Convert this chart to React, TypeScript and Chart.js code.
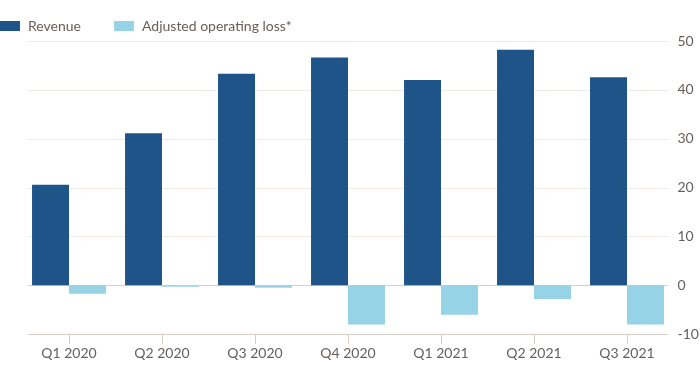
import React, { useEffect, useRef } from "react";
import { Chart, registerables } from "chart.js";

Chart.register(...registerables);

const categories = ["Q1 2020", "Q2 2020", "Q3 2020", "Q4 2020", "Q1 2021", "Q2 2021", "Q3 2021"];
const revenue = [20.6, 31.1, 43.3, 46.6, 42.0, 48.2, 42.6];
const adjustedLoss = [-1.7, -0.3, -0.5, -8.0, -6.0, -2.8, -8.0];
const seriesNames = ["Revenue", "Adjusted operating loss*"];
const seriesColors = ["#1f5489", "#96d3e6"];
const yTicks = [-10, 0, 10, 20, 30, 40, 50];

const FONT = "Lato, 'Open Sans', sans-serif";
const TEXT = "#66605c";

const gridPlugin = {
  id: "customGrid",
  beforeDatasetsDraw(chart: any) {
    const { ctx, chartArea, scales } = chart;
    const y = scales.y;
    ctx.save();
    yTicks.forEach((v) => {
      const py = Math.round(y.getPixelForValue(v)) + 0.5;
      ctx.strokeStyle = v === 0 || v === -10 ? "#d8cfc8" : "#efeae6";
      ctx.lineWidth = 1;
      ctx.beginPath();
      ctx.moveTo(chartArea.left + 5.5, py);
      ctx.lineTo(chartArea.right - 5.5, py);
      ctx.stroke();
    });
    ctx.restore();
  },
};

export default function App() {
  const ref = useRef<HTMLCanvasElement>(null);
  useEffect(() => {
    document.body.style.margin = "0";
    const chart = new Chart(ref.current!, {
      type: "bar",
      data: {
        labels: categories,
        datasets: [
          { label: seriesNames[0], data: revenue, backgroundColor: seriesColors[0], borderWidth: 0 },
          { label: seriesNames[1], data: adjustedLoss, backgroundColor: seriesColors[1], borderWidth: 0 },
        ],
      },
      options: {
        animation: false,
        responsive: false,
        maintainAspectRatio: false,
        layout: { padding: { left: 22.5, top: 41, bottom: 12, right: 0 } },
        plugins: { legend: { display: false }, tooltip: { enabled: false } },
        datasets: { bar: { barPercentage: 1, categoryPercentage: 0.795 } },
        scales: {
          x: {
            grid: { offset: false, drawOnChartArea: false, drawTicks: true, tickLength: 10, color: "#d8cfc8" },
            border: { display: false },
            ticks: { color: TEXT, font: { family: FONT, size: 14 }, padding: 1, maxRotation: 0 },
          },
          y: {
            position: "right",
            min: -10,
            max: 50,
            afterBuildTicks: (scale: any) => {
              scale.ticks = yTicks.map((v) => ({ value: v }));
            },
            afterFit: (scale: any) => {
              scale.width = 26.5;
            },
            grid: { display: false, drawTicks: false, tickLength: 0 },
            border: { display: false },
            ticks: { color: TEXT, font: { family: FONT, size: 14 }, padding: 4 },
          },
        },
      },
      plugins: [gridPlugin],
    });
    return () => chart.destroy();
  }, []);

  return (
    <div style={{ position: "relative", width: 700, height: 375, fontFamily: FONT }}>
      <canvas ref={ref} width={700} height={375} style={{ display: "block" }} />
      <div style={{ position: "absolute", left: 0, top: 17, display: "flex", alignItems: "center", fontSize: 14, color: TEXT }}>
        {seriesNames.map((n, i) => (
          <div key={n} style={{ display: "flex", alignItems: "center", marginRight: 33 }}>
            <span style={{ display: "inline-block", width: 20, height: 10, background: seriesColors[i], marginRight: 8 }} />
            <span>{n}</span>
          </div>
        ))}
      </div>
    </div>
  );
}
